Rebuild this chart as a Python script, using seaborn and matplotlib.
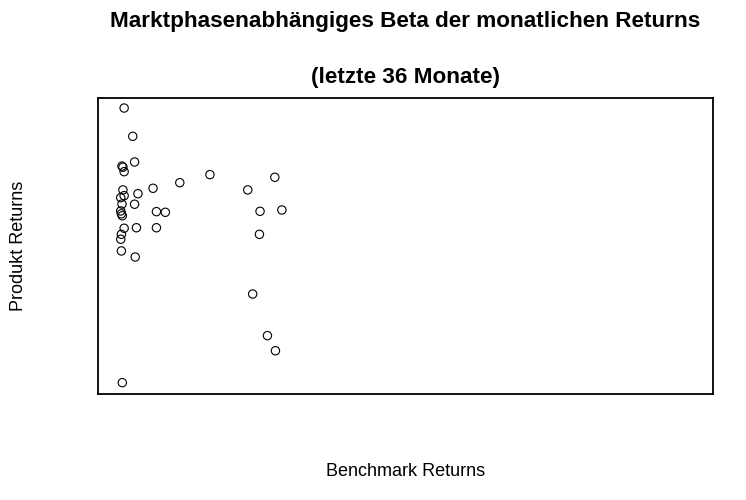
# Marktphasenabhängiges Beta — scatter of monthly returns (last 36 months)
import numpy as np
import pandas as pd
import matplotlib
matplotlib.use("Agg")
import matplotlib.pyplot as plt
import seaborn as sns

# ---- data (monthly returns in %) ----
benchmark = [-2.15, -1.87, -1.81, -2.22, -2.19, -2.15, 0.64, -0.34, -1.21,
             -2.19, -1.70, -2.15, -2.26, -2.22, -1.81, -2.26, -2.24, -2.21,
             -1.10, -0.81, -2.15, -1.75, -1.10, -2.24, -2.26, -2.24, -1.79,
             2.75, 1.87, 2.27, 2.98, 2.25, 2.03, 2.51, 2.77, -2.21]
produkt = [5.39, 3.67, 2.11, 1.86, 1.79, 1.52, 1.34, 0.85, 0.51,
           0.41, 0.18, 0.06, -0.06, -0.45, -0.46, -0.87, -1.04, -1.16,
           -0.91, -0.95, -1.92, -1.89, -1.89, -2.29, -2.59, -3.30, -3.67,
           1.18, 0.41, -0.89, -0.81, -2.29, -5.92, -8.45, -9.37, -11.31]

title_lines = ["Marktphasenabhängiges Beta der monatlichen Returns",
               "(letzte 36 Monate)"]
x_label = "Benchmark Returns"
y_label = "Produkt Returns"

df = pd.DataFrame({"Benchmark": benchmark, "Produkt": produkt})

# ---- plot ----
sns.set_style("white")
plt.rcParams["font.family"] = ["Liberation Sans", "DejaVu Sans"]
plt.rcParams["text.color"] = "black"

fig = plt.figure(figsize=(7.46, 5.0), dpi=100)
ax = fig.add_axes([98 / 746, 106 / 500, 615 / 746, 296 / 500])

sns.scatterplot(data=df, x="Benchmark", y="Produkt", ax=ax,
                marker="o", s=36, facecolor="none", edgecolor="black",
                linewidth=0.8)

ax.set_xlim(-3, 17)
ax.set_ylim(-12, 6)
ax.set_xticks([])
ax.set_yticks([])
ax.set_xlabel("")
ax.set_ylabel("")
for sp in ax.spines.values():
    sp.set_color("black")
    sp.set_linewidth(1.3)

cx = (98 + 713) / 2 / 746
fig.text(cx, 1 - 22 / 500, title_lines[0], ha="center", va="center",
         fontsize=16.2, fontweight="bold", color="black")
fig.text(cx, 1 - 78 / 500, title_lines[1], ha="center", va="center",
         fontsize=16.2, fontweight="bold", color="black")
fig.text(cx, 1 - 472 / 500, x_label, ha="center", va="center",
         fontsize=13, color="black")
fig.text(19 / 746, 1 - 246 / 500, y_label, ha="center", va="center",
         fontsize=13, rotation=90, color="black")

fig.savefig("out.png", dpi=100)
